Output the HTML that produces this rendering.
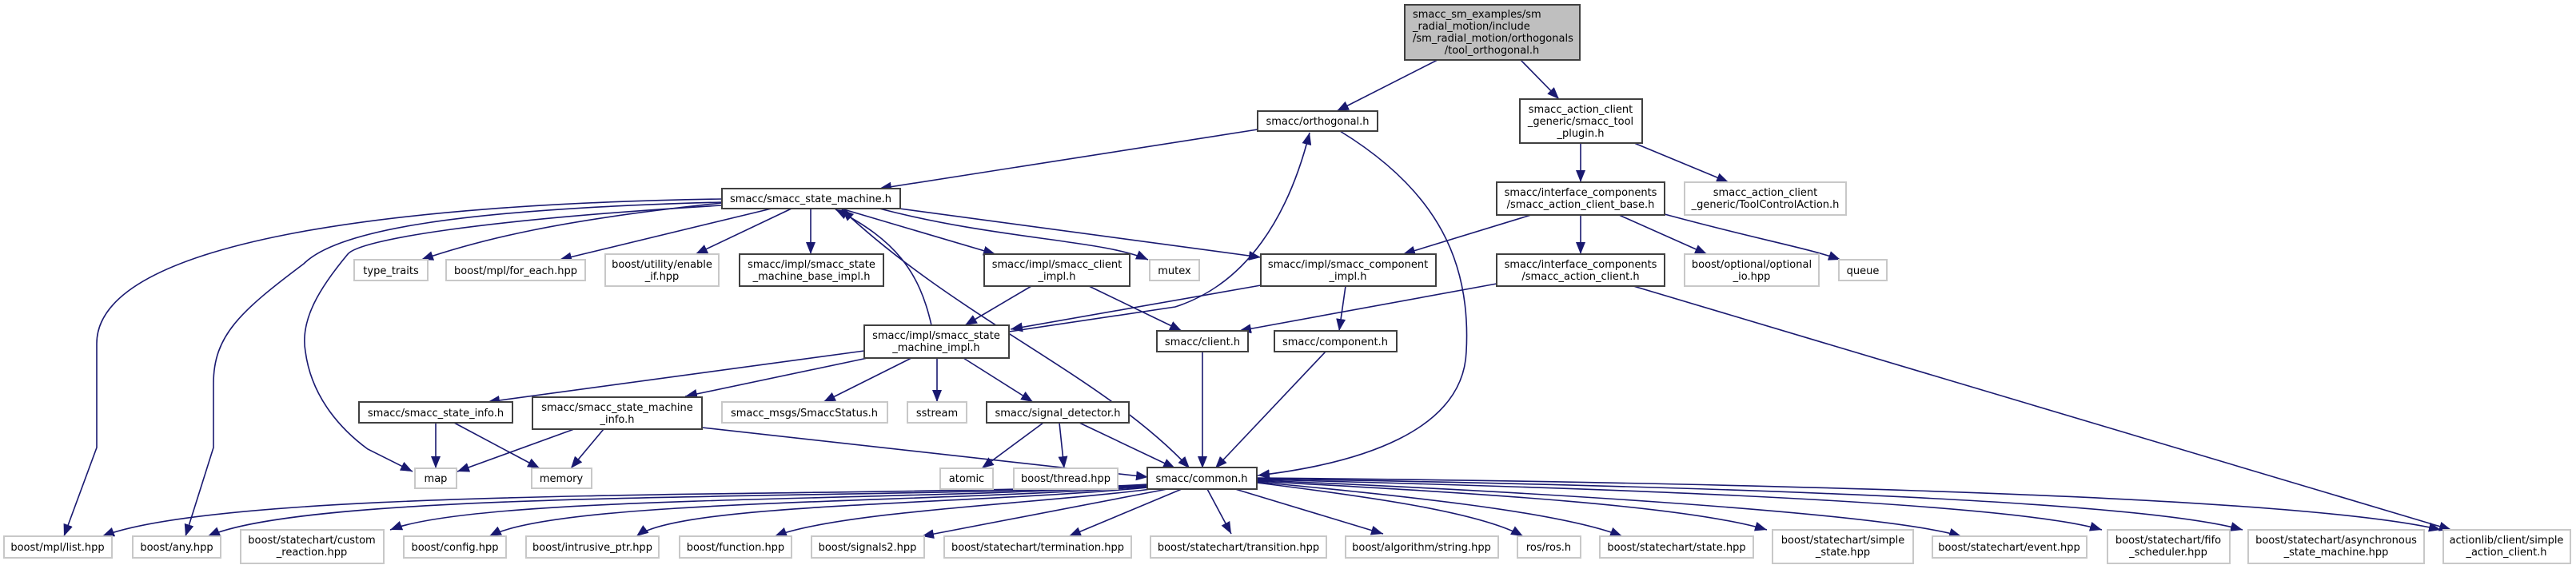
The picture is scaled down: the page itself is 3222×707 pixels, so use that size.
<!DOCTYPE html>
<html><head><meta charset="utf-8"><style>
html,body{margin:0;padding:0;background:#fff;}
svg{display:block;}
text{font-family:"DejaVu Sans","Liberation Sans",sans-serif;font-size:13px;fill:#000;}
.d{fill:#fff;stroke:#404040;stroke-width:2;}
.g{fill:#fff;stroke:#c8c8c8;stroke-width:2;}
.e{fill:none;stroke:#191970;stroke-width:1.6;}
</style></head><body>
<svg width="3222" height="707" viewBox="0 0 3222 707" xmlns="http://www.w3.org/2000/svg">
<defs>
<marker id="a" markerUnits="userSpaceOnUse" markerWidth="16" markerHeight="12" refX="15" refY="6" orient="auto"><path d="M0,0 L15,6 L0,12 z" fill="#191970"/></marker>
<marker id="s" markerUnits="userSpaceOnUse" markerWidth="16" markerHeight="12" refX="0" refY="6" orient="auto"><path d="M15,0 L0,6 L15,12 z" fill="#191970"/></marker>
</defs>
<g class="e" marker-end="url(#a)">
<path d="M1798,75 L1672,139"/>
<path d="M1902,75 L1950,124"/>
<path d="M1977,179 L1977,228"/>
<path d="M2044,179 L2162,228"/>
<path d="M1573,162 L1100,236"/>
<path d="M1676,164 C1800,240 1840,330 1834,440 C1830,540 1700,580 1573,595"/>
<path d="M1915,269 L1755,318"/>
<path d="M1977,269 L1977,318"/>
<path d="M2025,269 L2135,318"/>
<path d="M2082,268 C2200,300 2260,310 2302,325"/>
<path d="M1872,355 L1550,414"/>
<path d="M2043,358 L3066,663"/>
<path d="M1577,357 L1264,412"/>
<path d="M1683,358 L1675,414"/>
<path d="M1290,358 L1207,407"/>
<path d="M1362,358 L1478,414"/>
<path d="M1262,415 L1470,384 C1560,355 1612,270 1638,166"/>
<path d="M1165,407 C1150,340 1120,300 1045,262"/>
<path d="M1081,439 L610,503"/>
<path d="M1085,448 L857,496"/>
<path d="M1140,448 L1030,503"/>
<path d="M1172,448 L1172,503"/>
<path d="M1205,448 L1292,503"/>
<path d="M878,535 L1436,597"/>
<path d="M545,529 L545,586"/>
<path d="M568,529 L675,586"/>
<path d="M718,537 L572,590"/>
<path d="M755,537 L714,586"/>
<path d="M903,249 C500,255 121,300 121,430 L121,560 L80,671"/>
<path d="M903,253 C560,262 420,290 380,330 C300,390 267,420 267,480 L267,560 L232,671"/>
<path d="M903,257 C600,275 450,300 435,318 C400,360 375,400 382,440 C390,500 430,540 460,562 L516,590"/>
<path d="M903,254 C700,275 600,300 527,325"/>
<path d="M965,261 L700,325"/>
<path d="M990,261 L870,318"/>
<path d="M1014,261 L1014,318"/>
<path d="M1052,261 L1245,318"/>
<path d="M1100,261 C1250,300 1380,300 1436,325"/>
<path d="M1110,259 L1577,322"/>
<path d="M1053,262 C1200,400 1380,470 1488,586" marker-start="url(#s)"/>
<path d="M1305,529 L1228,586"/>
<path d="M1325,529 L1331,586"/>
<path d="M1350,529 L1470,586"/>
<path d="M1504,440 L1504,586"/>
<path d="M1658,440 L1520,586"/>
<path d="M1436,606 C1100,625 300,605 128,671"/>
<path d="M1436,607 C1100,627 400,610 260,671"/>
<path d="M1436,608 C1100,628 600,620 488,663"/>
<path d="M1436,609 C1150,630 700,625 612,671"/>
<path d="M1436,610 C1200,632 850,630 796,671"/>
<path d="M1440,612 C1300,630 1050,640 969,671"/>
<path d="M1460,612 L1153,671"/>
<path d="M1478,612 L1337,671"/>
<path d="M1510,612 L1540,668"/>
<path d="M1545,612 L1730,668"/>
<path d="M1572,604 C1700,620 1850,640 1905,671"/>
<path d="M1572,603 C1750,620 1950,640 2029,671"/>
<path d="M1572,602 C1800,615 2100,630 2210,663"/>
<path d="M1572,601 C1850,612 2350,640 2453,671"/>
<path d="M1572,600 C1900,608 2500,625 2629,663"/>
<path d="M1572,599 C1950,605 2650,620 2805,663"/>
<path d="M1572,598 C2000,602 2850,615 3053,663"/>
</g>
<g>
<rect x="1757" y="6" width="219" height="69" fill="#bfbfbf" stroke="#404040" stroke-width="2"/>
<text x="1767" y="22">smacc_sm_examples/sm</text>
<text x="1767" y="37">_radial_motion/include</text>
<text x="1767" y="52">/sm_radial_motion/orthogonals</text>
<text x="1866" y="67" text-anchor="middle">/tool_orthogonal.h</text>
</g>
<g text-anchor="middle">
<rect class="d" x="1573" y="139" width="150" height="25"/><text x="1648" y="156">smacc/orthogonal.h</text>
<rect class="d" x="1901" y="124" width="153" height="55"/><text x="1977" y="141">smacc_action_client</text><text x="1977" y="156">_generic/smacc_tool</text><text x="1977" y="171">_plugin.h</text>
<rect class="d" x="1872" y="228" width="210" height="41"/><text x="1977" y="245">smacc/interface_components</text><text x="1977" y="260">/smacc_action_client_base.h</text>
<rect class="g" x="2107" y="228" width="202" height="41"/><text x="2208" y="245">smacc_action_client</text><text x="2208" y="260">_generic/ToolControlAction.h</text>
<rect class="d" x="903" y="236" width="223" height="25"/><text x="1014" y="253">smacc/smacc_state_machine.h</text>
<rect class="g" x="443" y="325" width="92" height="26"/><text x="489" y="343">type_traits</text>
<rect class="g" x="558" y="325" width="174" height="26"/><text x="645" y="343">boost/mpl/for_each.hpp</text>
<rect class="g" x="757" y="318" width="142" height="40"/><text x="828" y="335">boost/utility/enable</text><text x="828" y="350">_if.hpp</text>
<rect class="d" x="925" y="318" width="180" height="40"/><text x="1015" y="335">smacc/impl/smacc_state</text><text x="1015" y="350">_machine_base_impl.h</text>
<rect class="d" x="1231" y="318" width="182" height="40"/><text x="1322" y="335">smacc/impl/smacc_client</text><text x="1322" y="350">_impl.h</text>
<rect class="g" x="1438" y="325" width="62" height="26"/><text x="1469" y="343">mutex</text>
<rect class="d" x="1577" y="318" width="219" height="40"/><text x="1686" y="335">smacc/impl/smacc_component</text><text x="1686" y="350">_impl.h</text>
<rect class="d" x="1872" y="318" width="210" height="40"/><text x="1977" y="335">smacc/interface_components</text><text x="1977" y="350">/smacc_action_client.h</text>
<rect class="g" x="2107" y="318" width="168" height="40"/><text x="2191" y="335">boost/optional/optional</text><text x="2191" y="350">_io.hpp</text>
<rect class="g" x="2300" y="325" width="60" height="26"/><text x="2330" y="343">queue</text>
<rect class="d" x="1081" y="407" width="181" height="41"/><text x="1171" y="424">smacc/impl/smacc_state</text><text x="1171" y="439">_machine_impl.h</text>
<rect class="d" x="1447" y="414" width="114" height="26"/><text x="1504" y="432">smacc/client.h</text>
<rect class="d" x="1594" y="414" width="153" height="26"/><text x="1670" y="432">smacc/component.h</text>
<rect class="d" x="449" y="503" width="192" height="26"/><text x="545" y="521">smacc/smacc_state_info.h</text>
<rect class="d" x="666" y="497" width="212" height="40"/><text x="772" y="514">smacc/smacc_state_machine</text><text x="772" y="529">_info.h</text>
<rect class="g" x="903" y="503" width="207" height="26"/><text x="1006" y="521">smacc_msgs/SmaccStatus.h</text>
<rect class="g" x="1135" y="503" width="74" height="26"/><text x="1172" y="521">sstream</text>
<rect class="d" x="1234" y="503" width="178" height="26"/><text x="1323" y="521">smacc/signal_detector.h</text>
<rect class="g" x="519" y="586" width="52" height="25"/><text x="545" y="603">map</text>
<rect class="g" x="665" y="586" width="75" height="25"/><text x="702" y="603">memory</text>
<rect class="g" x="1176" y="586" width="66" height="26"/><text x="1209" y="603">atomic</text>
<rect class="g" x="1268" y="586" width="130" height="26"/><text x="1333" y="603">boost/thread.hpp</text>
<rect class="d" x="1435" y="585" width="137" height="27"/><text x="1503" y="603">smacc/common.h</text>
<rect class="g" x="5" y="671" width="135" height="27"/><text x="72" y="689">boost/mpl/list.hpp</text>
<rect class="g" x="166" y="671" width="110" height="27"/><text x="221" y="689">boost/any.hpp</text>
<rect class="g" x="301" y="663" width="179" height="42"/><text x="390" y="680">boost/statechart/custom</text><text x="390" y="695">_reaction.hpp</text>
<rect class="g" x="505" y="671" width="128" height="27"/><text x="569" y="689">boost/config.hpp</text>
<rect class="g" x="658" y="671" width="166" height="27"/><text x="741" y="689">boost/intrusive_ptr.hpp</text>
<rect class="g" x="850" y="671" width="140" height="27"/><text x="920" y="689">boost/function.hpp</text>
<rect class="g" x="1015" y="671" width="141" height="27"/><text x="1085" y="689">boost/signals2.hpp</text>
<rect class="g" x="1181" y="671" width="234" height="27"/><text x="1298" y="689">boost/statechart/termination.hpp</text>
<rect class="g" x="1439" y="671" width="220" height="27"/><text x="1549" y="689">boost/statechart/transition.hpp</text>
<rect class="g" x="1683" y="671" width="191" height="27"/><text x="1778" y="689">boost/algorithm/string.hpp</text>
<rect class="g" x="1898" y="671" width="79" height="27"/><text x="1937" y="689">ros/ros.h</text>
<rect class="g" x="2001" y="671" width="192" height="27"/><text x="2097" y="689">boost/statechart/state.hpp</text>
<rect class="g" x="2217" y="663" width="176" height="42"/><text x="2305" y="680">boost/statechart/simple</text><text x="2305" y="695">_state.hpp</text>
<rect class="g" x="2417" y="671" width="193" height="27"/><text x="2513" y="689">boost/statechart/event.hpp</text>
<rect class="g" x="2636" y="663" width="153" height="42"/><text x="2712" y="680">boost/statechart/fifo</text><text x="2712" y="695">_scheduler.hpp</text>
<rect class="g" x="2812" y="663" width="220" height="42"/><text x="2922" y="680">boost/statechart/asynchronous</text><text x="2922" y="695">_state_machine.hpp</text>
<rect class="g" x="3056" y="663" width="159" height="42"/><text x="3135" y="680">actionlib/client/simple</text><text x="3135" y="695">_action_client.h</text>
</g>
</svg>
</body></html>
